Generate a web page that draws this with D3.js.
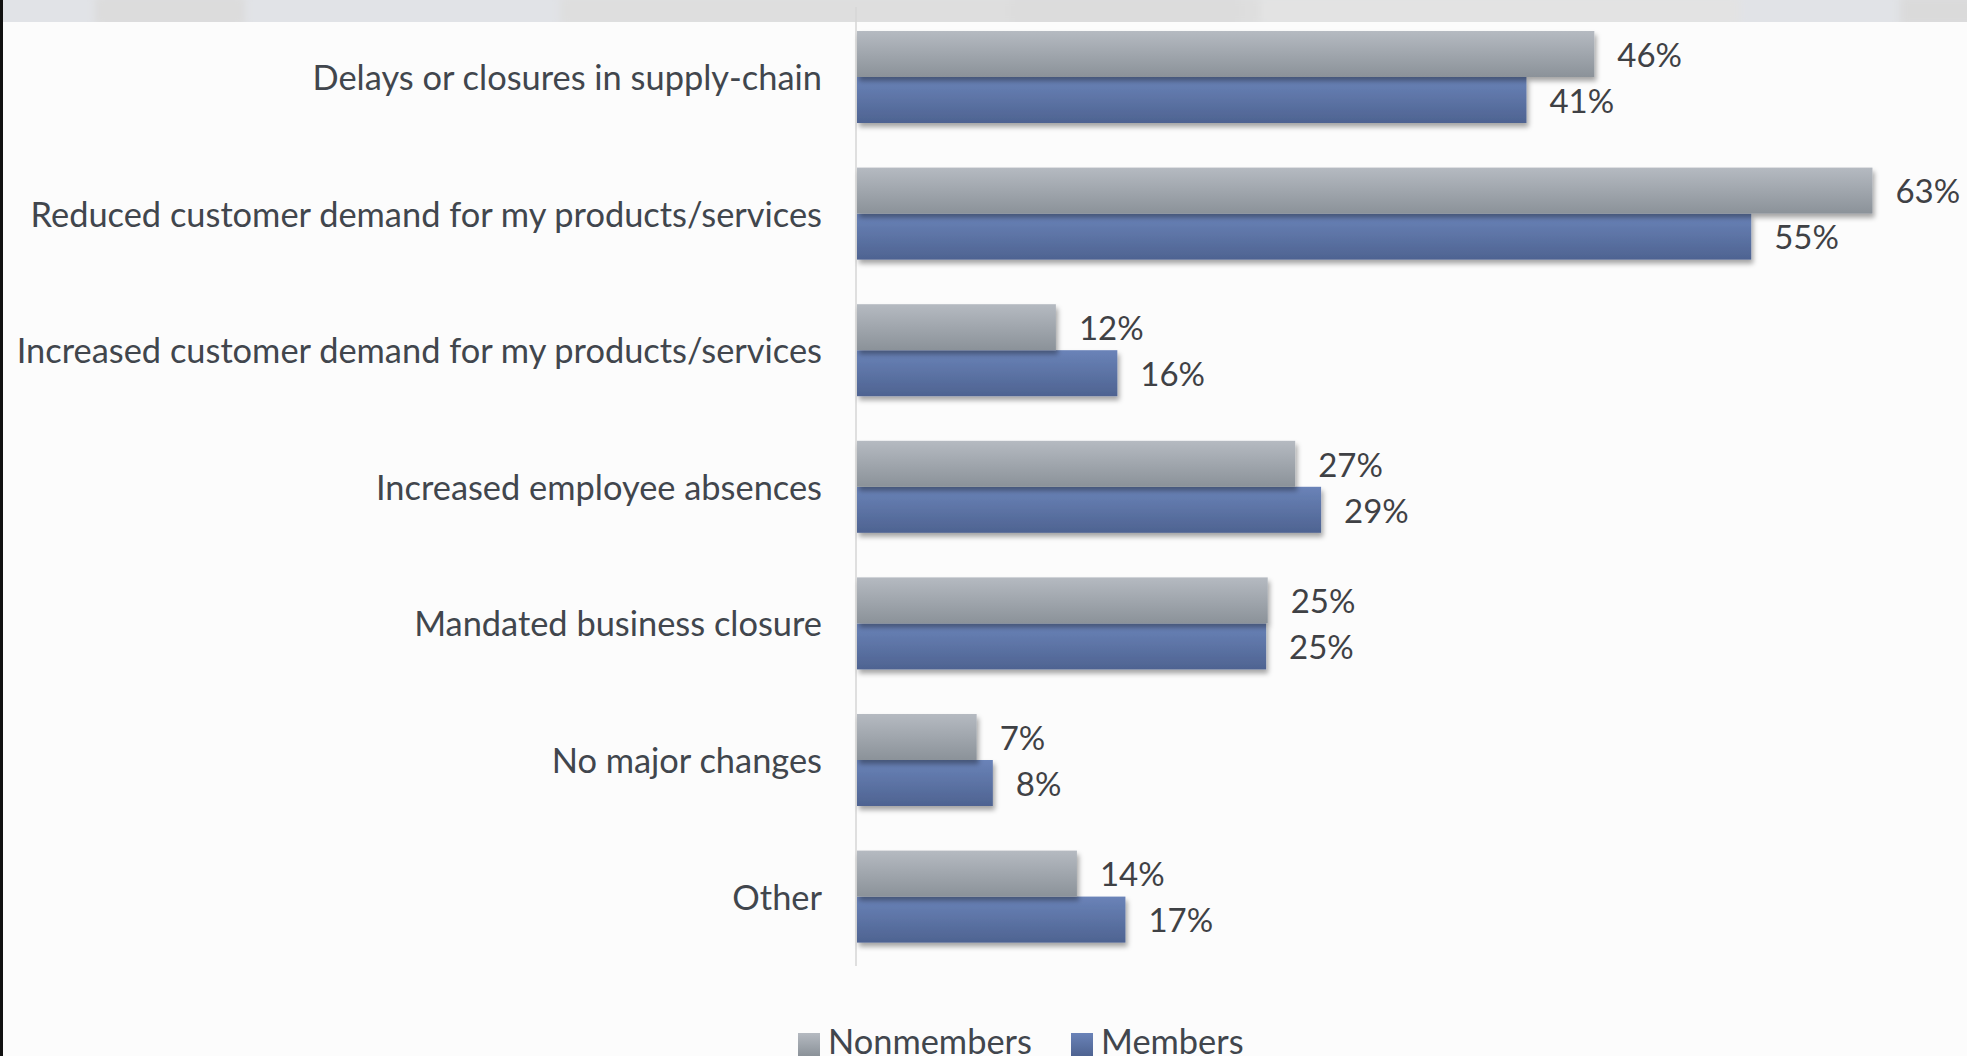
<!DOCTYPE html>
<html>
<head>
<meta charset="utf-8">
<script src="https://cdn.jsdelivr.net/npm/d3@7"></script>
<style>
  html, body { margin: 0; padding: 0; background: #fcfcfc; }
  svg { display: block; }
  text { font-family: Lato, "Open Sans", sans-serif; }
</style>
</head>
<body>
<svg id="chart" width="1967" height="1056"></svg>
<script>
// ---- data ----
const categories = [
  "Delays or closures in supply-chain",
  "Reduced customer demand for my products/services",
  "Increased customer demand for my products/services",
  "Increased employee absences",
  "Mandated business closure",
  "No major changes",
  "Other"
];
const seriesNames = ["Nonmembers", "Members"];
const nonmembers = [45.6, 62.8, 12.3, 27.1, 25.4, 7.4, 13.6];
const members    = [41.4, 55.3, 16.1, 28.7, 25.3, 8.4, 16.6];
const seriesValues = [nonmembers, members];

// ---- layout ----
const W = 1967, H = 1056;
const svg = d3.select("#chart");
const defs = svg.append("defs");

function grad(id, top, bottom) {
  const g = defs.append("linearGradient").attr("id", id)
    .attr("x1", 0).attr("y1", 0).attr("x2", 0).attr("y2", 1);
  g.append("stop").attr("offset", "0%").attr("stop-color", top);
  g.append("stop").attr("offset", "100%").attr("stop-color", bottom);
}
grad("gGray", "#b5bac1", "#8b9299");
grad("gBlue", "#6a83b8", "#4e6391");
const fills = ["url(#gGray)", "url(#gBlue)"];

const shadow = defs.append("filter").attr("id", "shadow")
  .attr("x", "-5%").attr("y", "-20%").attr("width", "115%").attr("height", "160%");
shadow.append("feDropShadow").attr("dx", 2).attr("dy", 4)
  .attr("stdDeviation", 2.5).attr("flood-color", "#000").attr("flood-opacity", 0.35);

const blur = defs.append("filter").attr("id", "blur");
blur.append("feGaussianBlur").attr("stdDeviation", 4);

// background
svg.append("rect").attr("width", W).attr("height", H).attr("fill", "#fcfcfc");

// top band (blurred backdrop)
svg.append("rect").attr("x", 0).attr("y", 0).attr("width", W).attr("height", 22).attr("fill", "#e1e3e7");
const bandClip = defs.append("clipPath").attr("id", "bandClip");
bandClip.append("rect").attr("x", 0).attr("y", 0).attr("width", W).attr("height", 22);
const patches = svg.append("g").attr("clip-path", "url(#bandClip)").append("g").attr("filter", "url(#blur)");
[[95, 150, "#dcdcdc"], [560, 700, "#dedede"], [1010, 230, "#dcdcdc"], [1260, 480, "#e3e3e3"], [1900, 80, "#dadada"]]
  .forEach(([x, w, c]) => patches.append("rect").attr("x", x).attr("y", -4).attr("width", w).attr("height", 30).attr("fill", c));

// scales
const x = d3.scaleLinear().domain([0, 70]).range([857, 857 + 70 * 16.17]);
const y = d3.scaleBand().domain(categories).range([8.7, 964.9])
  .paddingInner(0.3265).paddingOuter(0.3265 / 2);
const ySub = d3.scaleBand().domain(seriesNames).range([0, y.bandwidth()]);

// axis line
svg.append("line")
  .attr("x1", x(0) - 1).attr("x2", x(0) - 1)
  .attr("y1", 7).attr("y2", 966)
  .attr("stroke", "#d6d6d6").attr("stroke-width", 1.5);

// category labels (axis)
const yAxis = d3.axisLeft(y).tickSize(0).tickPadding(0);
const axisG = svg.append("g").attr("transform", "translate(822,2)").call(yAxis);
axisG.select(".domain").remove();
axisG.selectAll("text")
  .attr("font-size", 34.4)
  .attr("font-family", "Lato, 'Open Sans', sans-serif")
  .attr("fill", "#41464d");

// bars
const rows = categories.map((c, i) => ({ c, vals: seriesNames.map((s, j) => ({ s, j, v: seriesValues[j][i] })) }));
const fmt = v => d3.format(".0f")(v) + "%";

const grp = svg.selectAll("g.cat").data(rows).join("g").attr("class", "cat")
  .attr("transform", d => `translate(0,${y(d.c)})`);

grp.selectAll("rect.bar").data(d => d.vals.slice().reverse()).join("rect")
  .attr("class", "bar")
  .attr("x", x(0))
  .attr("y", d => ySub(d.s))
  .attr("width", d => x(d.v) - x(0))
  .attr("height", ySub.bandwidth())
  .attr("fill", d => fills[d.j])
  .attr("filter", "url(#shadow)");

grp.selectAll("text.val").data(d => d.vals).join("text")
  .attr("class", "val")
  .attr("x", d => x(d.v) + 23)
  .attr("y", d => ySub(d.s) + ySub.bandwidth() / 2 + 1)
  .attr("dy", "0.36em")
  .attr("font-size", 33)
  .attr("fill", "#3f4145")
  .text(d => fmt(d.v));

// legend
const legend = svg.append("g");
const legX = [798, 1071];
seriesNames.forEach((s, j) => {
  legend.append("rect").attr("x", legX[j]).attr("y", 1033).attr("width", 22).attr("height", 23)
    .attr("fill", fills[j]);
  legend.append("text").attr("x", legX[j] + 30).attr("y", 1054)
    .attr("font-size", 34.4).attr("fill", "#41464d").text(s);
});

// left border
svg.append("rect").attr("x", 0).attr("y", 0).attr("width", 3).attr("height", H).attr("fill", "#111");
</script>
</body>
</html>
